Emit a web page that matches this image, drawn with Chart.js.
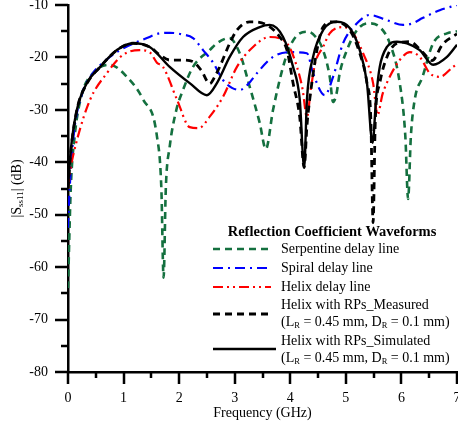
<!DOCTYPE html>
<html>
<head>
<meta charset="utf-8">
<script src="https://cdn.jsdelivr.net/npm/chart.js@4.4.1/dist/chart.umd.min.js"></script>
<style>
  html, body { margin: 0; padding: 0; background: #fff; }
  #wrap { width: 458px; height: 425px; }
</style>
</head>
<body>
<div id="wrap"><canvas id="c" width="458" height="425"></canvas></div>
<script>
// Reflection coefficient |Sss11| (dB) vs frequency (GHz)

const serpFreq = [0, 0.05, 0.12, 0.25, 0.45, 0.75, 1.06, 1.35, 1.6, 1.68, 1.72, 1.76, 1.83, 1.95, 2.07, 2.25, 2.55, 2.68, 2.9, 3.09, 3.27, 3.45, 3.56, 3.69, 3.87, 3.99, 4.17, 4.32, 4.45, 4.59, 4.71, 4.77, 4.83, 4.89, 5.02, 5.2, 5.4, 5.61, 5.79, 5.97, 6.07, 6.12, 6.17, 6.24, 6.38, 6.57, 6.82, 7.0];
const serpDb = [-64, -45, -35, -27, -23, -21.4, -23.7, -28, -35, -45, -62, -45, -37, -30, -26.2, -21.8, -18.6, -17.3, -16.3, -19.2, -25.6, -32.5, -37.5, -30, -21.8, -18, -15.4, -15.1, -16, -18.6, -23.7, -28.5, -27, -23, -18.6, -14.8, -13.5, -14.2, -17.3, -24.9, -35, -47, -35, -28, -23.7, -17.3, -15.4, -15];

const spiralFreq = [0, 0.03, 0.1, 0.25, 0.45, 0.63, 0.94, 1.42, 1.65, 1.83, 2.05, 2.25, 2.43, 2.61, 2.79, 2.95, 3.09, 3.25, 3.4, 3.69, 3.99, 4.3, 4.41, 4.62, 4.77, 4.95, 5.2, 5.43, 5.74, 6.03, 6.2, 6.38, 6.69, 7.0];
const spiralDb = [-52.5, -45, -35, -27, -23, -21, -18.6, -16.3, -15.4, -15.3, -15.6, -16.3, -18.6, -21, -24.3, -25.8, -26.2, -25, -23, -19.9, -19, -19.2, -23, -27.2, -23.7, -17.3, -13.5, -11.9, -12.9, -13.8, -13.5, -12.5, -11, -10];

const helixFreq = [0, 0.05, 0.16, 0.4, 0.7, 0.99, 1.29, 1.47, 1.6, 1.71, 1.96, 2.19, 2.35, 2.55, 2.79, 3.04, 3.33, 3.63, 3.94, 4.12, 4.22, 4.3, 4.37, 4.45, 4.59, 4.71, 4.95, 5.13, 5.31, 5.49, 5.57, 5.66, 5.79, 5.97, 6.15, 6.33, 6.51, 6.69, 6.93, 7.0];
const helixDb = [-45, -41, -35.8, -28, -23, -19.5, -18.6, -19, -21, -21.8, -28, -33.3, -33.5, -31.3, -27.5, -21.8, -18, -16.1, -17.3, -21.8, -26, -31.4, -26, -21, -18, -15.4, -14.2, -15.4, -19.2, -24.9, -31, -27, -23.7, -20.5, -19, -19.9, -23, -23.7, -21.8, -21.3];

const measFreq = [0, 0.05, 0.16, 0.34, 0.58, 0.88, 1.17, 1.47, 1.65, 1.83, 2.07, 2.25, 2.4, 2.55, 2.65, 2.73, 2.91, 3.04, 3.27, 3.58, 3.81, 3.94, 4.05, 4.17, 4.25, 4.3, 4.35, 4.48, 4.59, 4.77, 5.07, 5.25, 5.38, 5.45, 5.49, 5.53, 5.61, 5.74, 5.92, 6.15, 6.38, 6.55, 6.74, 7.0];
const measDb = [-45, -38, -30, -25, -21.8, -18.6, -17.3, -18, -19.5, -20.5, -20.5, -20.8, -22.5, -25, -23.5, -21.8, -17.3, -14.8, -13.2, -13.8, -16.1, -18.6, -24.9, -31.4, -41, -33, -28, -18.6, -14.2, -13.2, -14.8, -19.2, -24.9, -32, -51.5, -32, -24.9, -19.9, -17.3, -17, -19, -20.6, -17.5, -15.5];

const simFreq = [0, 0.05, 0.16, 0.34, 0.58, 0.88, 1.17, 1.47, 1.83, 2.19, 2.5, 2.68, 2.91, 3.15, 3.45, 3.63, 3.87, 4.05, 4.17, 4.25, 4.3, 4.41, 4.59, 4.84, 5.07, 5.25, 5.38, 5.48, 5.55, 5.61, 5.74, 5.92, 6.1, 6.33, 6.57, 6.82, 7.0];
const simDb = [-45, -37.7, -30, -24.9, -21.8, -18.6, -17.3, -18, -21.8, -24.9, -27.2, -24.9, -19.9, -16.1, -14.2, -13.8, -16.1, -21.8, -28, -41, -28, -19.9, -14.8, -13.2, -14.4, -18.6, -24.9, -36.3, -27, -21.8, -18, -17, -17.3, -18.6, -21.4, -19.9, -17.6];

const yTicks = [-80, -70, -60, -50, -40, -30, -20, -10];
const xTicks = [0, 1, 2, 3, 4, 5, 6, 7];

const FONT = '"Liberation Serif", "Times New Roman", serif';
const GREEN = '#14703f';

function pts(xs, ys) {
    return xs.map((f, i) => ({ x: f, y: ys[i] }));
}

const series = [
    { label: ['Serpentine delay line'], data: pts(serpFreq, serpDb), borderColor: GREEN, borderWidth: 2.6, borderDash: [7, 5], order: 5 },
    { label: ['Spiral delay line'], data: pts(spiralFreq, spiralDb), borderColor: '#0000ff', borderWidth: 2.2, borderDash: [10, 5, 2, 5], order: 4 },
    { label: ['Helix delay line'], data: pts(helixFreq, helixDb), borderColor: '#ff0000', borderWidth: 2.2, borderDash: [10, 4, 2, 4, 2, 4], order: 3 },
    { label: ['Helix with RPs_Measured', 'sub'], data: pts(measFreq, measDb), borderColor: '#000', borderWidth: 2.8, borderDash: [7, 5], order: 2 },
    { label: ['Helix with RPs_Simulated', 'sub'], data: pts(simFreq, simDb), borderColor: '#000', borderWidth: 2.4, borderDash: [], order: 1 }
];

// draw text pieces in a row; each piece is [text, size, yShift]
function drawPieces(ctx, pieces, x, y, weight) {
    let cx = x;
    for (const [t, size, dy] of pieces) {
        ctx.font = (weight || '') + ' ' + size + 'px ' + FONT;
        ctx.fillText(t, cx, y + dy);
        cx += ctx.measureText(t).width;
    }
    return cx;
}

function piecesWidth(ctx, pieces) {
    let w = 0;
    for (const [t, size] of pieces) {
        ctx.font = size + 'px ' + FONT;
        w += ctx.measureText(t).width;
    }
    return w;
}

const decorPlugin = {
    id: 'decor',
    afterDraw(chart) {
        const ctx = chart.ctx;
        const xs = chart.scales.x;
        const ys = chart.scales.y;
        const area = chart.chartArea;
        ctx.save();
        ctx.strokeStyle = '#000';
        ctx.fillStyle = '#000';
        ctx.lineWidth = 2.5;
        ctx.lineCap = 'butt';

        // tick marks, outside of the axes
        ctx.beginPath();
        for (let v = -80; v <= -10; v += 5) {
            const py = Math.round(ys.getPixelForValue(v));
            const len = v % 10 === 0 ? 13 : 7;
            ctx.moveTo(area.left - len, py);
            ctx.lineTo(area.left, py);
        }
        for (let f = 0; f <= 7; f += 0.5) {
            const px = Math.round(xs.getPixelForValue(f));
            const len = f % 1 === 0 ? 12 : 6;
            ctx.moveTo(px, area.bottom);
            ctx.lineTo(px, area.bottom + len);
        }
        ctx.stroke();

        // axis titles
        ctx.textBaseline = 'middle';
        ctx.textAlign = 'center';
        ctx.font = '14px ' + FONT;
        ctx.fillText('Frequency (GHz)', (area.left + area.right) / 2, 413);

        ctx.save();
        ctx.translate(17, (area.top + area.bottom) / 2);
        ctx.rotate(-Math.PI / 2);
        ctx.textAlign = 'left';
        const yTitle = [['|S', 14, 0], ['ss11', 9, 4], ['| (dB)', 14, 0]];
        drawPieces(ctx, yTitle, -piecesWidth(ctx, yTitle) / 2, 0);
        ctx.restore();

        // legend
        ctx.textAlign = 'center';
        ctx.font = 'bold 14.5px ' + FONT;
        ctx.fillText('Reflection Coefficient Waveforms', 332, 232);

        ctx.textAlign = 'left';
        const rows = [
            { y: 249, text: [249] },
            { y: 268, text: [268] },
            { y: 287, text: [287] },
            { y: 314, text: [305, 322] },
            { y: 349, text: [341, 358] }
        ];
        const subLine = [['(L', 14, 0], ['R', 8.5, 4], [' = 0.45 mm, D', 14, 0], ['R', 8.5, 4], [' = 0.1 mm)', 14, 0]];
        chart.data.datasets.forEach((ds, i) => {
            const row = rows[i];
            ctx.save();
            ctx.strokeStyle = ds.borderColor;
            ctx.lineWidth = ds.borderWidth;
            ctx.setLineDash(ds.borderDash);
            ctx.beginPath();
            ctx.moveTo(213, row.y);
            ctx.lineTo(i === 4 ? 276 : 271, row.y);
            ctx.stroke();
            ctx.restore();
            ctx.font = '14px ' + FONT;
            ctx.fillText(ds.label[0], 281, row.text[0]);
            if (ds.label[1]) {
                drawPieces(ctx, subLine, 281, row.text[1]);
            }
        });
        ctx.restore();
    }
};

new Chart(document.getElementById('c'), {
    type: 'line',
    data: {
        datasets: series.map(s => ({
            ...s,
            fill: false,
            pointRadius: 0,
            cubicInterpolationMode: 'monotone',
            borderCapStyle: 'butt'
        }))
    },
    options: {
        responsive: false,
        animation: false,
        layout: { padding: { top: 5, right: 1, left: 0, bottom: 0 } },
        plugins: {
            legend: { display: false },
            tooltip: { enabled: false }
        },
        scales: {
            x: {
                type: 'linear',
                min: 0,
                max: 7,
                afterBuildTicks: (scale) => { scale.ticks = xTicks.map(v => ({ value: v })); },
                afterFit: (scale) => { scale.height = 53; scale.paddingLeft = 0; scale.paddingRight = 0; },
                grid: { display: false, drawTicks: false },
                border: { display: true, color: '#000', width: 2.5 },
                ticks: {
                    color: '#000',
                    padding: 18,
                    maxRotation: 0,
                    font: { family: FONT, size: 14 }
                }
            },
            y: {
                type: 'linear',
                min: -80,
                max: -10,
                afterBuildTicks: (scale) => { scale.ticks = yTicks.map(v => ({ value: v })); },
                afterFit: (scale) => { scale.width = 68; scale.paddingTop = 0; scale.paddingBottom = 0; },
                grid: { display: false, drawTicks: false },
                border: { display: true, color: '#000', width: 2.5 },
                ticks: {
                    color: '#000',
                    padding: 20,
                    font: { family: FONT, size: 14 }
                }
            }
        }
    },
    plugins: [decorPlugin]
});
</script>
</body>
</html>
